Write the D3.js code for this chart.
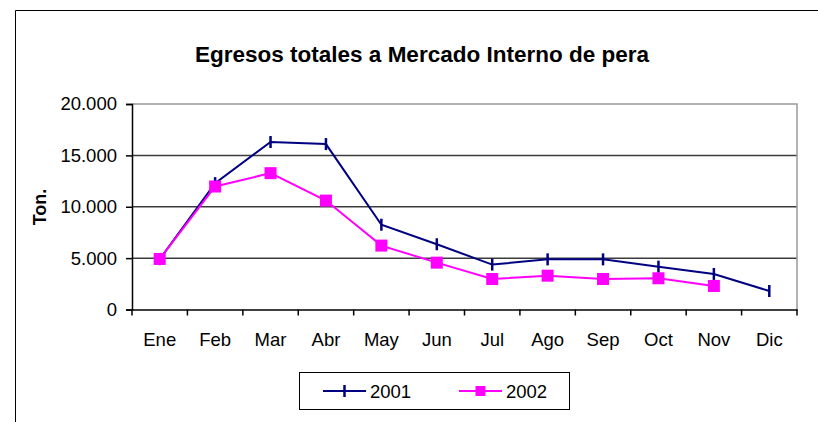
<!DOCTYPE html>
<html>
<head>
<meta charset="utf-8">
<script src="https://cdn.jsdelivr.net/npm/d3@7"></script>
<style>
  body { margin: 0; background: #fff; }
  svg { display: block; font-family: 'Liberation Sans', Arial, sans-serif; }
</style>
</head>
<body>
<div id="graf"></div>
<script>
// Datos
meses = ['Ene', 'Feb', 'Mar', 'Abr', 'May', 'Jun', 'Jul', 'Ago', 'Sep', 'Oct', 'Nov', 'Dic']
serie2001 = [4900, 12300, 16300, 16100, 8250, 6350, 4370, 4880, 4880, 4170, 3460, 1800]
serie2002 = [4920, 11970, 13270, 10600, 6220, 4560, 2970, 3290, 2970, 3040, 2290, null]
ticksY = [0, 5000, 10000, 15000, 20000]
anios = ['2001', '2002']

// Configuración
ancho_total = 818
alto_total = 422
margins = { top: 104, left: 132, right: 21, bottom: 112.5 }
ancho = ancho_total - margins.left - margins.right
alto = alto_total - margins.top - margins.bottom

colores = { '2001': '#000080', '2002': '#FF00FF' }

svg = d3.select('#graf').append('svg')
  .attr('width', ancho_total)
  .attr('height', alto_total)

// marco exterior
svg.append('path')
  .attr('d', 'M15.5,422 L15.5,10.5 L818,10.5')
  .attr('fill', 'none')
  .attr('stroke', '#000')
  .attr('stroke-width', 1)

// titulo
svg.append('text')
  .attr('x', 422)
  .attr('y', 62)
  .attr('text-anchor', 'middle')
  .attr('font-weight', 'bold')
  .attr('font-size', '22.5px')
  .text('Egresos totales a Mercado Interno de pera')

g = svg.append('g')
  .attr('transform', `translate(${margins.left},${margins.top})`)

x = d3.scaleBand().domain(meses).range([0, ancho])
y = d3.scaleLinear().domain([0, 20000]).range([alto, 0])

loc = d3.formatLocale({ decimal: ',', thousands: '.', grouping: [3], currency: ['$', ''] })
fmt = loc.format(',')

// grilla
g.selectAll('.grid')
  .data(ticksY.filter(d => d > 0 && d < 20000))
  .enter().append('line')
  .attr('x1', 0).attr('x2', ancho)
  .attr('y1', d => y(d)).attr('y2', d => y(d))
  .attr('stroke', '#3c3c3c')
  .attr('stroke-width', 1.5)

// borde superior y derecho del area
g.append('path')
  .attr('d', `M0,${y(20000)} L${ancho},${y(20000)} L${ancho},${alto}`)
  .attr('fill', 'none')
  .attr('stroke', '#999')
  .attr('stroke-width', 1.5)

// eje Y
yAxis = d3.axisLeft(y).tickValues(ticksY).tickFormat(fmt).tickSize(6).tickPadding(9)
gy = g.append('g').call(yAxis)
gy.select('.domain').attr('stroke', '#000').attr('stroke-width', 1.5)
gy.selectAll('.tick line').attr('stroke', '#000').attr('stroke-width', 1.5)
gy.selectAll('text')
  .attr('font-size', '18.5px')
  .attr('font-family', 'Liberation Sans, Arial, sans-serif')
  .attr('fill', '#000')

// eje X
xAxis = d3.axisBottom(x).tickSize(0).tickPadding(23)
gx = g.append('g').attr('transform', `translate(0,${alto})`).call(xAxis)
gx.select('.domain').attr('stroke', '#000').attr('stroke-width', 1.5)
gx.selectAll('text')
  .attr('font-size', '18.5px')
  .attr('font-family', 'Liberation Sans, Arial, sans-serif')
  .attr('fill', '#000')
// marcas entre categorias
g.selectAll('.xtick')
  .data(meses.concat(['fin']))
  .enter().append('line')
  .attr('x1', (d, i) => i * x.bandwidth())
  .attr('x2', (d, i) => i * x.bandwidth())
  .attr('y1', alto).attr('y2', alto + 6)
  .attr('stroke', '#000')
  .attr('stroke-width', 1.5)

// etiqueta eje Y
svg.append('text')
  .attr('transform', 'translate(46,207) rotate(-90)')
  .attr('text-anchor', 'middle')
  .attr('font-weight', 'bold')
  .attr('font-size', '18px')
  .text('Ton.')

// lineas
linea = d3.line()
  .defined(d => d != null)
  .x((d, i) => x(meses[i]) + x.bandwidth() / 2)
  .y(d => y(d))

g.append('path')
  .datum(serie2001)
  .attr('d', linea)
  .attr('fill', 'none')
  .attr('stroke', colores['2001'])
  .attr('stroke-width', 2)

g.append('path')
  .datum(serie2002)
  .attr('d', linea)
  .attr('fill', 'none')
  .attr('stroke', colores['2002'])
  .attr('stroke-width', 2)

// marcadores 2001
g.selectAll('.m2001')
  .data(serie2001.map((v, i) => ({ v, m: meses[i] })).filter(d => d.v != null))
  .enter().append('line')
  .attr('x1', d => x(d.m) + x.bandwidth() / 2)
  .attr('x2', d => x(d.m) + x.bandwidth() / 2)
  .attr('y1', d => y(d.v) - 6)
  .attr('y2', d => y(d.v) + 6)
  .attr('stroke', colores['2001'])
  .attr('stroke-width', 2.5)

// marcadores 2002
g.selectAll('.m2002')
  .data(serie2002.map((v, i) => ({ v, m: meses[i] })).filter(d => d.v != null))
  .enter().append('rect')
  .attr('x', d => x(d.m) + x.bandwidth() / 2 - 6)
  .attr('y', d => y(d.v) - 6)
  .attr('width', 12)
  .attr('height', 12)
  .attr('fill', colores['2002'])

// leyenda
ley = svg.append('g')
ley.append('rect')
  .attr('x', 299.5).attr('y', 372.5)
  .attr('width', 270).attr('height', 37)
  .attr('fill', '#fff')
  .attr('stroke', '#000')
  .attr('stroke-width', 1)

posLey = { '2001': 323, '2002': 459 }
anios.forEach(a => {
  var x0 = posLey[a]
  ley.append('line')
    .attr('x1', x0).attr('x2', x0 + 43)
    .attr('y1', 391).attr('y2', 391)
    .attr('stroke', colores[a]).attr('stroke-width', 2)
  if (a === '2001') {
    ley.append('line')
      .attr('x1', x0 + 21.5).attr('x2', x0 + 21.5)
      .attr('y1', 385).attr('y2', 397)
      .attr('stroke', colores[a]).attr('stroke-width', 2.5)
  } else {
    ley.append('rect')
      .attr('x', x0 + 16.5).attr('y', 386)
      .attr('width', 10).attr('height', 10)
      .attr('fill', colores[a])
  }
  ley.append('text')
    .attr('x', x0 + 47).attr('y', 397.5)
    .attr('font-size', '18.5px')
    .text(a)
})
</script>
</body>
</html>
